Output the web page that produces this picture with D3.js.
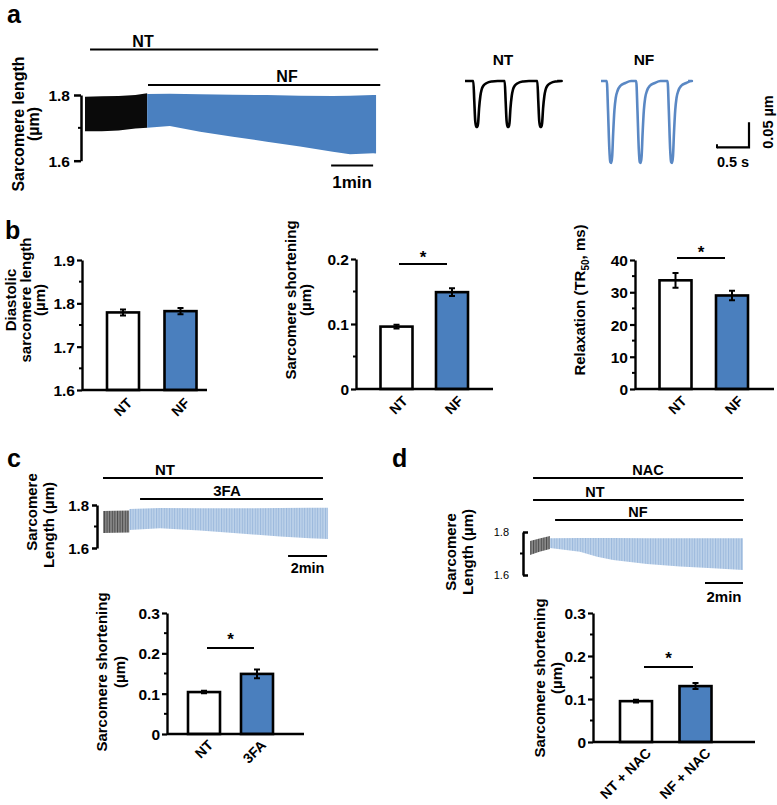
<!DOCTYPE html>
<html><head><meta charset="utf-8">
<script src="https://cdn.jsdelivr.net/npm/d3@7"></script>
<style>
body{margin:0;background:#fff}
svg text{font-family:"Liberation Sans",Arial,Helvetica,sans-serif;font-weight:bold;fill:#000}
</style>
</head><body>
<svg id="fig" width="777" height="805"></svg>
<script>
// ================= DATA =================
const BLUE = "#4a7fbe";

// Panel a – continuous sarcomere-length trace (time in min, length in µm)
const aNTTime = [0, 0.4, 0.8, 1.2, 1.48];
const aNTDia  = [1.795, 1.796, 1.797, 1.800, 1.805];
const aNTSys  = [1.690, 1.690, 1.692, 1.698, 1.700];
const aNFTime = [1.48, 2.02, 2.74, 3.52, 4.33, 5.12, 5.90, 6.31, 6.86, 6.93];
const aNFDia  = [1.803, 1.804, 1.802, 1.801, 1.800, 1.798, 1.797, 1.798, 1.800, 1.800];
const aNFSys  = [1.700, 1.706, 1.688, 1.673, 1.658, 1.643, 1.627, 1.620, 1.623, 1.622];
const aPeriodLabels = ["NT", "NF"];
const aPeriodStart  = [0.12, 1.50];
const aPeriodEnd    = [6.98, 7.03];

// Panel a – single twitches (time in s after stimulus, Δ length in µm)
const ntTwT = [0, 0.015, 0.03, 0.045, 0.06, 0.075, 0.09, 0.11, 0.13, 0.16, 0.21, 0.29, 0.38];
const ntTwV = [0, -0.040, -0.080, -0.091, -0.092, -0.084, -0.055, -0.030, -0.017, -0.009, -0.004, -0.001, 0];
const ntOnsets = [0.13, 0.62, 1.13];
const ntEnd = 1.44;
const nfTwT = [0, 0.02, 0.04, 0.055, 0.07, 0.085, 0.10, 0.12, 0.14, 0.17, 0.21, 0.29, 0.38];
const nfTwV = [0, -0.060, -0.135, -0.162, -0.164, -0.150, -0.105, -0.058, -0.034, -0.019, -0.010, -0.004, 0];
const nfOnsets = [0.09, 0.55, 1.04];
const nfEnd = 1.36;

// Panel b
const bCats = ["NT", "NF"];
const bDiaVals = [1.779, 1.782];
const bDiaErr  = [0.007, 0.007];
const bDiaTicks = [1.6, 1.7, 1.8, 1.9];
const bShortVals = [0.096, 0.149];
const bShortErr  = [0.003, 0.006];
const bShortTicks = [0, 0.1, 0.2];
const bRelaxVals = [33.7, 29.0];
const bRelaxErr  = [2.3, 1.5];
const bRelaxTicks = [0, 10, 20, 30, 40];

// Panel c
const cTraceGrayTime = [0, 0.6, 1.35];
const cTraceGrayDia  = [1.772, 1.773, 1.775];
const cTraceGraySys  = [1.670, 1.671, 1.672];
const cTraceBlueTime = [1.35, 2.92, 4.97, 7.03, 9.08, 10.6, 11.54];
const cTraceBlueDia  = [1.781, 1.786, 1.785, 1.785, 1.786, 1.787, 1.787];
const cTraceBlueSys  = [1.684, 1.692, 1.681, 1.668, 1.653, 1.645, 1.642];
const cPeriodLabels = ["NT", "3FA"];
const cPeriodStart  = [0, 1.9];
const cPeriodEnd    = [11.28, 11.28];
const cCats = ["NT", "3FA"];
const cVals = [0.104, 0.149];
const cErr  = [0.003, 0.011];
const cTicks = [0, 0.1, 0.2, 0.3];

// Panel d
const dTraceGrayTime = [0, 0.5, 1.05];
const dTraceGrayDia  = [1.758, 1.770, 1.781];
const dTraceGraySys  = [1.693, 1.708, 1.721];
const dTraceBlueTime = [1.05, 2.63, 3.53, 4.37, 6.16, 7.89, 9.63, 11.21];
const dTraceBlueDia  = [1.771, 1.772, 1.772, 1.772, 1.771, 1.771, 1.771, 1.771];
const dTraceBlueSys  = [1.726, 1.708, 1.685, 1.670, 1.651, 1.639, 1.631, 1.623];
const dPeriodLabels = ["NAC", "NT", "NF"];
const dPeriodStart  = [0.16, 0.16, 1.32];
const dPeriodEnd    = [11.21, 11.26, 11.21];
const dCats = ["NT + NAC", "NF + NAC"];
const dVals = [0.095, 0.130];
const dErr  = [0.003, 0.007];
const dTicks = [0, 0.1, 0.2, 0.3];

// ================= DRAWING =================
const svg = d3.select("#fig");
const defs = svg.append("defs");
function stripes(id, base, line, w) {
  const p = defs.append("pattern").attr("id", id).attr("patternUnits", "userSpaceOnUse")
    .attr("width", w).attr("height", 20);
  p.append("rect").attr("width", w).attr("height", 20).attr("fill", base);
  p.append("rect").attr("width", 1).attr("height", 20).attr("fill", line);
}
stripes("stGray", "#8a8a8a", "#4a4a4a", 2.6);
stripes("stBlue", "#bdd2ea", "#9bb8dc", 2.6);

function text(x, y, s, size, opt = {}) {
  const t = svg.append("text").attr("x", x).attr("y", y).attr("font-size", size)
    .attr("text-anchor", opt.anchor || "middle").text(s);
  if (opt.rotate) t.attr("transform", `rotate(${opt.rotate},${x},${y})`);
  if (opt.weight) t.style("font-weight", opt.weight);
  return t;
}

// panel letters
text(7, 23, "a", 25, {anchor: "start"});
text(5, 239, "b", 25, {anchor: "start"});
text(7, 467, "c", 25, {anchor: "start"});
text(392, 467, "d", 25, {anchor: "start"});

function longTrace(o) {
  const g = svg.append("g");
  const x = d3.scaleLinear().domain([0, 1]).range([o.x0, o.x0 + o.pxPerMin]);
  const y = d3.scaleLinear().domain([1.6, 1.8]).range([o.y16, o.y18]);
  o.segments.forEach(s => {
    const pts = s.time.map((t, i) => ({t, dia: s.dia[i], sys: s.sys[i]}));
    g.append("path").datum(pts)
      .attr("d", d3.area().x(d => x(d.t)).y0(d => y(d.sys)).y1(d => y(d.dia)))
      .attr("fill", s.fill);
  });
  o.periods.labels.forEach((lab, i) => {
    const yy = o.periods.y[i];
    g.append("line").attr("x1", x(o.periods.start[i])).attr("x2", x(o.periods.end[i]))
      .attr("y1", yy).attr("y2", yy).attr("stroke", "#000").attr("stroke-width", 1.8);
    text(o.periods.lx[i], yy - 3, lab, o.periods.size);
  });
  const ax = d3.axisLeft(y).tickValues([1.6, 1.8]).tickFormat(d3.format(".1f"))
    .tickSize(o.tickSize).tickSizeOuter(0).tickPadding(o.pad);
  const ag = g.append("g").attr("transform", `translate(${o.axisX},0)`).call(ax);
  ag.select(".domain").attr("stroke-width", 2.5);
  ag.selectAll(".tick line").attr("stroke-width", 2.5);
  ag.selectAll(".tick text").attr("font-size", o.tickFont).attr("dy", "0.36em");
  if (o.tickWeight) ag.selectAll(".tick text").style("font-weight", o.tickWeight);
  ag.append("line").attr("x1", -3).attr("x2", 0).attr("y1", y(1.7)).attr("y2", y(1.7))
    .attr("stroke", "#000").attr("stroke-width", 2);
  // time scale bar
  const sb = o.scaleBar;
  g.append("line").attr("x1", x(sb.t0)).attr("x2", x(sb.t0 + sb.len)).attr("y1", sb.y).attr("y2", sb.y)
    .attr("stroke", "#000").attr("stroke-width", 2);
  text((x(sb.t0) + x(sb.t0 + sb.len)) / 2, sb.ty, sb.label, sb.size);
  // y titles
  o.titles.forEach(t => text(t.x, t.y, t.s, t.size, {rotate: -90}));
}

// ---- Panel a long trace
longTrace({
  x0: 85, pxPerMin: 42, y16: 160.7, y18: 95, axisX: 81, tickSize: 7, pad: 4, tickFont: 15.5,
  segments: [
    {time: aNTTime, dia: aNTDia, sys: aNTSys, fill: "#0a0a0a"},
    {time: aNFTime, dia: aNFDia, sys: aNFSys, fill: "#4a80c0"}
  ],
  periods: {labels: aPeriodLabels, start: aPeriodStart, end: aPeriodEnd, y: [49.5, 85], lx: [143, 287], size: 16},
  scaleBar: {t0: 5.86, len: 1, y: 165.5, ty: 188, label: "1min", size: 17},
  titles: [{x: 24, y: 124, s: "Sarcomere length", size: 16}, {x: 39, y: 124, s: "(µm)", size: 16}]
});

// ---- Panel a twitches
function twitch(o) {
  const x = d3.scaleLinear().domain([0, 1]).range([o.x0, o.x0 + 64]);
  const y = d3.scaleLinear().domain([0, -0.05]).range([81, 106]);
  const pts = [[0, 0]];
  o.onsets.forEach(on => o.tt.forEach((t, i) => pts.push([on + t, o.vv[i]])));
  pts.push([o.end, 0]);
  svg.append("path").datum(pts)
    .attr("d", d3.line().x(d => x(d[0])).y(d => y(d[1])).curve(d3.curveMonotoneX))
    .attr("fill", "none").attr("stroke", o.color).attr("stroke-width", 2.6).attr("stroke-linejoin", "round");
}
twitch({x0: 465, tt: ntTwT, vv: ntTwV, onsets: ntOnsets, end: ntEnd, color: "#000"});
twitch({x0: 601, tt: nfTwT, vv: nfTwV, onsets: nfOnsets, end: nfEnd, color: "#5a88c4"});
text(503, 65, "NT", 15.5);
text(644, 65, "NF", 15.5);
// scale bars (0.5 s, 0.05 µm)
{
  const sx = d3.scaleLinear().domain([0, 1]).range([717, 717 + 64]);
  const sy = d3.scaleLinear().domain([0, 0.05]).range([147.3, 122.3]);
  svg.append("path").attr("d", `M${sx(0)},${sy(0)}H${sx(0.5)}V${sy(0.05)}`)
    .attr("fill", "none").attr("stroke", "#000").attr("stroke-width", 2.2);
  svg.append("line").attr("x1", sx(0)).attr("x2", sx(0)).attr("y1", sy(0) - 3).attr("y2", sy(0) + 1)
    .attr("stroke", "#000").attr("stroke-width", 2);
  text(733, 167, "0.5 s", 14.5);
  text(773, 122, "0.05 µm", 14.5, {rotate: -90});
}

// ---- Bar chart helper
function barChart(o) {
  const g = svg.append("g");
  const y = d3.scaleLinear().domain(o.domain).range([o.yBase, o.yTop]);
  const x = d3.scalePoint().domain(o.cats).range(o.centers);
  const bw = 32;
  g.selectAll("rect.bar").data(o.cats).join("rect")
    .attr("x", d => x(d) - bw / 2).attr("width", bw)
    .attr("y", (d, i) => y(o.vals[i])).attr("height", (d, i) => o.yBase - y(o.vals[i]))
    .attr("fill", (d, i) => i === 0 ? "#fff" : BLUE).attr("stroke", "#000").attr("stroke-width", 2.6);
  o.cats.forEach((c, i) => {
    const cx = x(c), hi = y(o.vals[i] + o.err[i]), lo = y(o.vals[i] - o.err[i]);
    g.append("path").attr("d", `M${cx},${hi}V${lo}M${cx - 3},${hi}H${cx + 3}M${cx - 3},${lo}H${cx + 3}`)
      .attr("stroke", "#000").attr("stroke-width", 2).attr("fill", "none");
  });
  g.append("line").attr("x1", o.axisX).attr("x2", o.xEnd).attr("y1", o.yBase).attr("y2", o.yBase)
    .attr("stroke", "#000").attr("stroke-width", 2.4);
  const ax = d3.axisLeft(y).tickValues(o.ticks).tickFormat(o.fmt).tickSize(5).tickSizeOuter(0).tickPadding(2);
  const ag = g.append("g").attr("transform", `translate(${o.axisX},0)`).call(ax);
  ag.select(".domain").attr("stroke-width", 2.4);
  ag.selectAll(".tick line").attr("stroke-width", 2.2);
  ag.selectAll(".tick text").attr("font-size", o.tickFont || 15.5).attr("dy", "0.36em");
  ag.selectAll("line.minor").data(o.minor).join("line").attr("class", "minor")
    .attr("x1", -3).attr("x2", 0).attr("y1", d => y(d)).attr("y2", d => y(d))
    .attr("stroke", "#000").attr("stroke-width", 2);
  if (o.sig) {
    g.append("line").attr("x1", o.sig.x1).attr("x2", o.sig.x2).attr("y1", o.sig.y).attr("y2", o.sig.y)
      .attr("stroke", "#000").attr("stroke-width", 2);
    text((o.sig.x1 + o.sig.x2) / 2, o.sig.sy, "*", 17);
  }
  o.cats.forEach(c => {
    const lx = x(c) + o.ldx, ly = o.yBase + o.ldy;
    text(lx, ly, c, 14, {anchor: "end", rotate: -45});
  });
  o.titles.forEach(t => {
    const tt = text(t.x, o.titleY, "", t.size || 15, {rotate: -90});
    t.parts.forEach(p => {
      const sp = tt.append("tspan").text(p.s);
      if (p.sub) sp.attr("font-size", 10).attr("dy", 4);
      if (p.back) sp.attr("dy", -4);
    });
  });
}
const fmt1 = d => d === 0 ? "0" : d3.format(".1f")(d);

barChart({
  cats: bCats, vals: bDiaVals, err: bDiaErr, domain: [1.6, 1.9], yBase: 390, yTop: 260,
  ticks: bDiaTicks, minor: [1.65, 1.75, 1.85], fmt: d3.format(".1f"),
  axisX: 82, xEnd: 207, centers: [123, 180.5], ldx: 10, ldy: 14, titleY: 300,
  titles: [{x: 16, parts: [{s: "Diastolic"}]}, {x: 31, parts: [{s: "sarcomere length"}]}, {x: 45, parts: [{s: "(µm)"}]}]
});
barChart({
  cats: bCats, vals: bShortVals, err: bShortErr, domain: [0, 0.2], yBase: 389, yTop: 259,
  ticks: bShortTicks, minor: [0.05, 0.15], fmt: fmt1,
  axisX: 356, xEnd: 493, centers: [396.5, 452], ldx: 12, ldy: 13, titleY: 300,
  sig: {x1: 399, x2: 447, y: 264, sy: 263},
  titles: [{x: 296, parts: [{s: "Sarcomere shortening"}]}, {x: 311, parts: [{s: "(µm)"}]}]
});
barChart({
  cats: bCats, vals: bRelaxVals, err: bRelaxErr, domain: [0, 40], yBase: 389, yTop: 260,
  ticks: bRelaxTicks, minor: [5, 15, 25, 35], fmt: d3.format("d"),
  axisX: 635, xEnd: 774, centers: [675.5, 732], ldx: 12, ldy: 13, titleY: 300,
  sig: {x1: 677, x2: 725, y: 258, sy: 258},
  titles: [{x: 585, parts: [{s: "Relaxation  (TR"}, {s: "50", sub: true}, {s: ", ms)", back: true}]}]
});

// ---- Panel c trace
longTrace({
  x0: 103, pxPerMin: 19.5, y16: 548, y18: 505, axisX: 97, tickSize: 5, pad: 3, tickFont: 15,
  segments: [
    {time: cTraceGrayTime, dia: cTraceGrayDia, sys: cTraceGraySys, fill: "url(#stGray)"},
    {time: cTraceBlueTime, dia: cTraceBlueDia, sys: cTraceBlueSys, fill: "url(#stBlue)"}
  ],
  periods: {labels: cPeriodLabels, start: cPeriodStart, end: cPeriodEnd, y: [478, 499], lx: [165, 227], size: 15},
  scaleBar: {t0: 9.49, len: 2, y: 556, ty: 573, label: "2min", size: 14.5},
  titles: [{x: 37, y: 512, s: "Sarcomere", size: 15}, {x: 54, y: 525, s: "Length  (µm)", size: 15}]
});
barChart({
  cats: cCats, vals: cVals, err: cErr, domain: [0, 0.3], yBase: 734, yTop: 613,
  ticks: cTicks, minor: [0.05, 0.15, 0.25], fmt: fmt1,
  axisX: 167, xEnd: 304, centers: [204, 257], ldx: 10, ldy: 12, titleY: 672,
  sig: {x1: 207, x2: 254, y: 648, sy: 645},
  titles: [{x: 107, parts: [{s: "Sarcomere shortening"}]}, {x: 125, parts: [{s: "(µm)"}]}]
});

// ---- Panel d trace
longTrace({
  x0: 530, pxPerMin: 19, y16: 575, y18: 532, axisX: 523, tickSize: -5, pad: 14, tickFont: 11, tickWeight: "normal",
  segments: [
    {time: dTraceGrayTime, dia: dTraceGrayDia, sys: dTraceGraySys, fill: "url(#stGray)"},
    {time: dTraceBlueTime, dia: dTraceBlueDia, sys: dTraceBlueSys, fill: "url(#stBlue)"}
  ],
  periods: {labels: dPeriodLabels, start: dPeriodStart, end: dPeriodEnd, y: [478, 500, 520], lx: [648, 595, 638], size: 14.5},
  scaleBar: {t0: 9.21, len: 2, y: 583, ty: 602, label: "2min", size: 15},
  titles: [{x: 456, y: 552, s: "Sarcomere", size: 15}, {x: 473, y: 552, s: "Length  (µm)", size: 15}]
});
barChart({
  cats: dCats, vals: dVals, err: dErr, domain: [0, 0.3], yBase: 742, yTop: 613,
  ticks: dTicks, minor: [0.05, 0.15, 0.25], fmt: fmt1,
  axisX: 593, xEnd: 755, centers: [636, 695.5], ldx: 16, ldy: 12, titleY: 678,
  sig: {x1: 644, x2: 693, y: 667, sy: 664},
  titles: [{x: 545, parts: [{s: "Sarcomere shortening"}]}, {x: 562, parts: [{s: "(µm)"}]}]
});
</script>
</body></html>
